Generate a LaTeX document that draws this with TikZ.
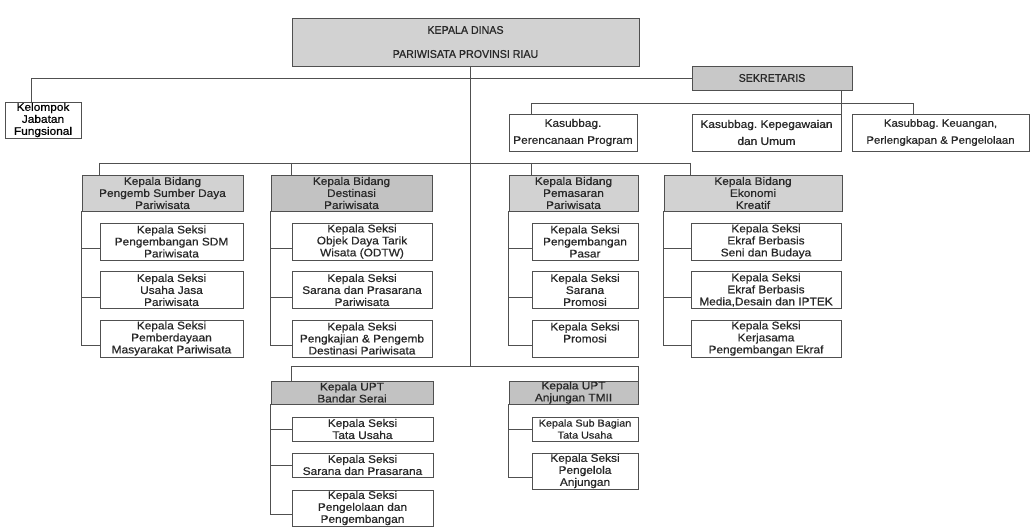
\documentclass[tikz,border=0pt]{standalone}
\usepackage{fontspec}
\setmainfont{Liberation Sans}[FakeStretch=1.08, FakeBold=0.6]
\newfontfamily\capsfont{Liberation Sans}[FakeStretch=0.95, FakeBold=0.8]
\frenchspacing
\definecolor{orgline}{RGB}{80,80,80}
\definecolor{orgtext}{RGB}{40,40,40}
\definecolor{orggray}{RGB}{210,210,210}
\definecolor{orgdark}{RGB}{194,194,194}
\tikzset{
  unit/.style={draw=orgline, line width=0.8pt, fill=white, text=orgtext,
    align=center, inner sep=0pt, font=\fontsize{11}{12}\selectfont},
  bidang/.style={unit, fill=orggray},
  upt/.style={unit, fill=orgdark},
  boxsize/.style 2 args={minimum width=#1pt, minimum height=#2pt},
  link/.style={draw=orgline, line width=0.8pt}
}
\begin{document}
\begin{tikzpicture}[x=1pt,y=-1pt]
\useasboundingbox (0,0) rectangle (1033,529);
% Head and secretariat
\node[bidang, boxsize={347}{48}, font=\capsfont\fontsize{11.2}{12}\selectfont] (kadis) at (465.5,42)
  {KEPALA DINAS\\[12pt]PARIWISATA PROVINSI RIAU};
\node[unit, fill=orgdark!90!white, boxsize={160}{24}, font=\capsfont\fontsize{11.2}{12}\selectfont] (sekre) at (772,78) {SEKRETARIS};
\node[unit, text=black, boxsize={76}{36}] (kjf) at (43,120) {Kelompok\\Jabatan\\Fungsional};
\node[unit, boxsize={128}{37}] (ksb1) at (573,132.5) {Kasubbag.\\[5pt]Perencanaan Program};
\node[unit, boxsize={149}{37}] (ksb2) at (766.5,132.5) {Kasubbag. Kepegawaian\\[5pt]dan Umum};
\node[unit, boxsize={177}{37}, font=\fontsize{10.6}{12}\selectfont] (ksb3) at (940.5,132.5) {Kasubbag. Keuangan,\\[5pt]Perlengkapan \& Pengelolaan};
% Kepala Bidang
\node[bidang, boxsize={161}{36}] (bid1) at (162.5,193) {Kepala Bidang\\Pengemb Sumber Daya\\Pariwisata};
\node[upt, boxsize={161}{36}] (bid2) at (351.5,193) {Kepala Bidang\\Destinasi\\Pariwisata};
\node[bidang, boxsize={129}{36}] (bid3) at (573.5,193) {Kepala Bidang\\Pemasaran\\Pariwisata};
\node[bidang, boxsize={178}{36}] (bid4) at (753,193) {Kepala Bidang\\Ekonomi\\Kreatif};
% Kepala Seksi
\node[unit, boxsize={143}{37}] (s11) at (171.5,241.5) {Kepala Seksi\\Pengembangan SDM\\Pariwisata};
\node[unit, boxsize={143}{37}] (s12) at (171.5,290) {Kepala Seksi\\Usaha Jasa\\Pariwisata};
\node[unit, boxsize={143}{37}] (s13) at (171.5,338.5) {Kepala Seksi\\Pemberdayaan\\Masyarakat Pariwisata};
\node[unit, boxsize={140}{37}] (s21) at (362,241.5) {Kepala Seksi\\Objek Daya Tarik\\Wisata (ODTW)};
\node[unit, boxsize={140}{37}] (s22) at (362,290) {Kepala Seksi\\Sarana dan Prasarana\\Pariwisata};
\node[unit, boxsize={140}{37}] (s23) at (362,338.5) {Kepala Seksi\\Pengkajian \& Pengemb\\Destinasi Pariwisata};
\node[unit, boxsize={106}{37}] (s31) at (585,241.5) {Kepala Seksi\\Pengembangan\\Pasar};
\node[unit, boxsize={106}{37}] (s32) at (585,290) {Kepala Seksi\\Sarana\\Promosi};
\node[unit, boxsize={106}{37}] (s33) at (585,338.5) {Kepala Seksi\\Promosi\\~};
\node[unit, boxsize={150}{37}] (s41) at (766,241.5) {Kepala Seksi\\Ekraf Berbasis\\Seni dan Budaya};
\node[unit, boxsize={150}{37}] (s42) at (766,290) {Kepala Seksi\\Ekraf Berbasis\\Media,Desain dan IPTEK};
\node[unit, boxsize={150}{37}] (s43) at (766,338.5) {Kepala Seksi\\Kerjasama\\Pengembangan Ekraf};
% UPT
\node[upt, boxsize={162}{23}] (upt1) at (352,392.5) {Kepala UPT\\Bandar Serai};
\node[upt, boxsize={129}{23}] (upt2) at (573.5,392.5) {Kepala UPT\\Anjungan TMII};
\node[unit, boxsize={141}{24}] (u11) at (362.5,429) {Kepala Seksi\\Tata Usaha};
\node[unit, boxsize={141}{24}] (u12) at (362.5,465) {Kepala Seksi\\Sarana dan Prasarana};
\node[unit, boxsize={141}{36}] (u13) at (362.5,508) {Kepala Seksi\\Pengelolaan dan\\Pengembangan};
\node[unit, boxsize={106}{24}, font=\fontsize{10}{12}\selectfont] (u21) at (585,429) {Kepala Sub Bagian\\Tata Usaha};
\node[unit, boxsize={106}{36}] (u22) at (585,471) {Kepala Seksi\\Pengelola\\Anjungan};
% Connectors
\coordinate (trunk) at ([xshift=5pt]kadis.south);
\coordinate (ksbbar) at (0,103);
\coordinate (bidbar) at (0,163);
\coordinate (uptbar) at (0,366);
\coordinate (ksbL) at ([xshift=23pt]ksb1.north west);
\coordinate (ksbR) at ([xshift=62pt]ksb3.north west);
\draw[link] (trunk) -- (trunk |- uptbar);
\draw[link] ([xshift=-12pt]kjf.north) |- (sekre.west);
\draw[link] (sekre.south -| ksb2.east) -- (ksb2.north east);
\draw[link] (ksbL) |- (ksbbar -| ksbR) -- (ksbR);
\draw[link] (s11.north west |- bidbar) -- (s41.north west |- bidbar);
\foreach \c in {1,...,4} {
  \draw[link] (s\c1.north west |- bidbar) -- (s\c1.north west |- bid\c.north);
  \foreach \r in {1,2,3}
    \draw[link] ([yshift=12pt]s\c\r.south west) -| (bid\c.south west);
}
\draw[link] (u11.north west |- uptbar) -- (u21.north east |- uptbar);
\draw[link] (u11.north west |- uptbar) -- (u11.north west |- upt1.north);
\draw[link] (u21.north east |- uptbar) -- (u21.north east |- upt2.north);
\foreach \r in {1,2,3}
  \draw[link] ([yshift=12pt]u1\r.south west) -| (upt1.south west);
\foreach \r in {1,2}
  \draw[link] ([yshift=12pt]u2\r.south west) -| (upt2.south west);
\end{tikzpicture}
\end{document}
